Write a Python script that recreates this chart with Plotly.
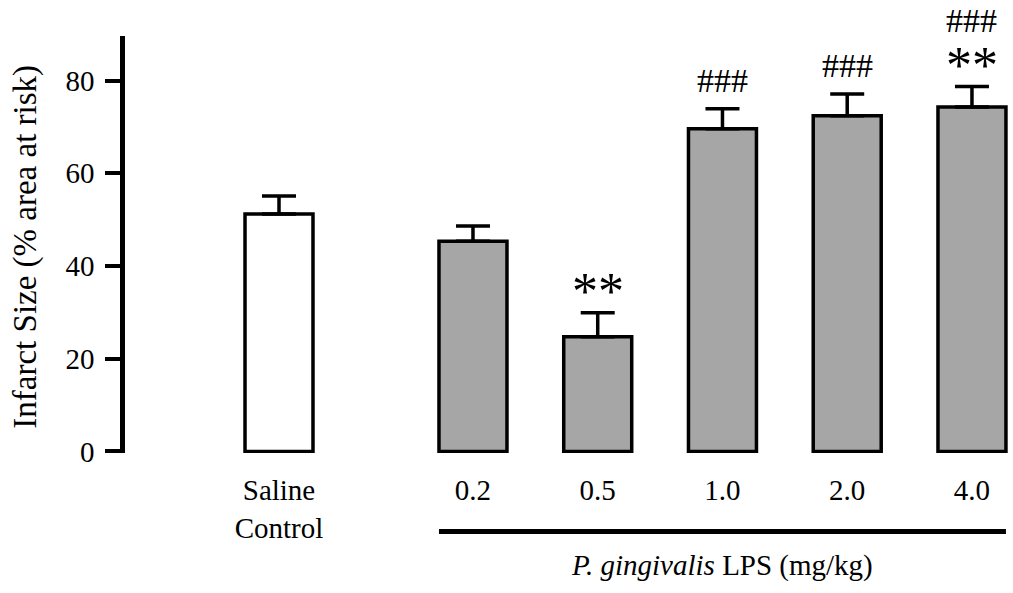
import plotly.graph_objects as go

# Infarct size by treatment group (mean and SEM, % of area at risk)
groups = ["Saline<br>Control", "0.2", "0.5", "1.0", "2.0", "4.0"]
infarct = [51.2, 45.3, 24.7, 69.6, 72.4, 74.3]
sem = [3.9, 3.3, 5.2, 4.3, 4.7, 4.4]
# significance marks
stars = ["", "", "**", "", "", "**"]
hashes = ["", "", "", "###", "###", "###"]
y_ticks = [0, 20, 40, 60, 80]

# slot positions: control stands apart from the LPS dose series
xpos = [0.0] + [1.555 + k for k in range(5)]
fills = ["white"] + ["#a6a6a6"] * 5
BAR_W = 0.545
FONT = "Liberation Serif, Times New Roman, serif"

fig = go.Figure()
fig.add_trace(go.Bar(
    x=xpos, y=infarct, width=BAR_W,
    marker=dict(color=fills, line=dict(color="black", width=3.5)),
    error_y=dict(type="data", symmetric=False, array=sem,
                 arrayminus=[0] * len(sem), color="black",
                 thickness=3.5, width=17),
    showlegend=False, hoverinfo="skip",
))

# significance annotations stacked above the error caps
for xv, v, e, s, h in zip(xpos, infarct, sem, stars, hashes):
    off = 17
    if s:
        fig.add_annotation(x=xv, y=v + e, xref="x", yref="y", text=s,
                           showarrow=False, yanchor="bottom",
                           yshift=off - 26,
                           font=dict(family=FONT, size=52, color="black"))
        off += 38
    if h:
        fig.add_annotation(x=xv, y=v + e, xref="x", yref="y", text=h,
                           showarrow=False, yanchor="bottom",
                           yshift=off - 9,
                           font=dict(family=FONT, size=34, color="black"))

# bracket line under the LPS doses and its caption
lps_left = xpos[1] - BAR_W / 2
lps_right = xpos[-1] + BAR_W / 2
fig.add_shape(type="line", xref="x", yref="paper",
              x0=lps_left, x1=lps_right, y0=-0.188, y1=-0.188,
              line=dict(color="black", width=5))
fig.add_annotation(x=(lps_left + lps_right) / 2, y=-0.279, xref="x",
                   yref="paper", text="<i>P. gingivalis</i> LPS (mg/kg)",
                   showarrow=False, yanchor="middle", yshift=4,
                   font=dict(family=FONT, size=29, color="black"))

fig.add_annotation(x=-0.113, y=0.494, xref="paper", yref="paper",
                   text="Infarct Size (% area at risk)", textangle=-90,
                   showarrow=False, xanchor="center", yanchor="middle",
                   font=dict(family=FONT, size=33, color="black"))

fig.update_layout(
    width=1013, height=593,
    margin=dict(l=125, r=0, t=36, b=140),
    plot_bgcolor="white", paper_bgcolor="white",
    font=dict(family=FONT, color="black"),
    xaxis=dict(range=[-1.2345, 5.884], tickvals=xpos, ticktext=groups,
               showline=False, showgrid=False, zeroline=False, ticks="",
               ticklabelstandoff=17,
               tickfont=dict(family=FONT, size=29, color="black")),
    yaxis=dict(range=[-0.35, 89.6], tickvals=y_ticks, showline=True,
               linecolor="black", linewidth=4.5, ticks="outside",
               ticklen=15, tickwidth=4, tickcolor="black",
               showgrid=False, zeroline=False, ticklabelstandoff=5,
               tickfont=dict(family=FONT, size=29, color="black")),
)

fig.write_html("out.html")
